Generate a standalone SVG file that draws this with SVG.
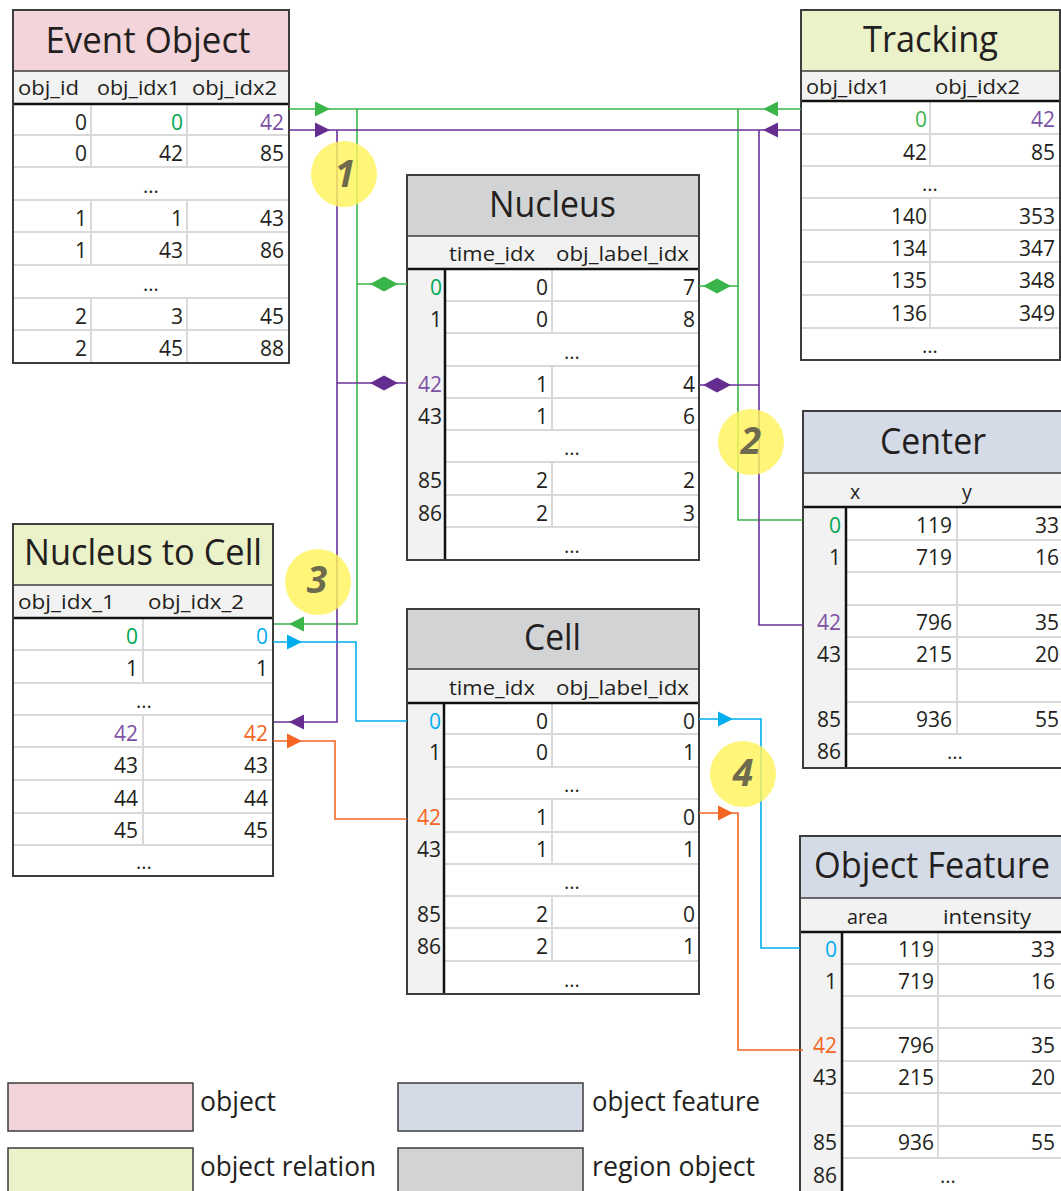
<svg xmlns="http://www.w3.org/2000/svg" xmlns:xlink="http://www.w3.org/1999/xlink" width="1061" height="1191" viewBox="0 0 1061 1191">
<style>
text{font-family:"Open Sans","Noto Sans",sans-serif;fill:#231f20}
.t{font-size:36px;text-anchor:middle}
.h{font-size:19.5px}
.v{font-size:21px;text-anchor:end}
.e{font-size:20px;text-anchor:middle}
.box{fill:none;stroke:#3d3d3d;stroke-width:2}
.sep{stroke:#3d3d3d;stroke-width:1.5}
.thk{stroke:#111;stroke-width:2.5}
.rl{stroke:#d9d9d9;stroke-width:2;fill:none}
.hb{fill:#f2f2f2}
.wb{fill:#fff}
.pk{fill:#f2d4da}.gr{fill:#ebf1c9}.bl{fill:#d4dbe6}.gy{fill:#d1d3d4}
text.cg{fill:#00a651}text.cg2{fill:#39b54a}text.cp{fill:#7d52a5}text.cb{fill:#00aeef}text.co{fill:#f26522}
.ln{fill:none;stroke-width:1.6}
.circ{fill:#fff35a;fill-opacity:0.82}
text.num{font-size:37px;font-weight:bold;font-style:italic;fill:#6e6a4e;text-anchor:middle}
.lg{font-size:27px}
.lgb{stroke:#3d3d3d;stroke-width:1.5}
</style>
<defs>
<path id="ar" d="M0 0L-15 -7.5L-15 7.5Z"/>
<path id="al" d="M0 0L15 -7.5L15 7.5Z"/>
<path id="dm" d="M-14 0L0 -7.5L14 0L0 7.5Z"/>
</defs>
<rect width="1061" height="1191" fill="#fff"/>

<g id="event-object">
<rect x="13" y="10" width="276" height="61" class="pk"/>
<rect x="13" y="71" width="276" height="33" class="hb"/>
<rect x="13" y="104" width="276" height="259" class="wb"/>
<path class="rl" d="M14 135H288M14 167H288M14 200H288M14 232H288M14 265H288M14 298H288M14 330H288"/>
<path class="rl" d="M91 104V167M187 104V167M91 200V265M187 200V265M91 298V363M187 298V363"/>
<line class="sep" x1="13" y1="71" x2="289" y2="71"/>
<line class="thk" x1="13" y1="104" x2="289" y2="104"/>
<rect class="box" x="13" y="10" width="276" height="353"/>
<text class="t" x="148" y="53" textLength="205" lengthAdjust="spacingAndGlyphs">Event Object</text>
<text class="h" x="18" y="95" textLength="61" lengthAdjust="spacingAndGlyphs">obj_id</text>
<text class="h" x="97" y="95" textLength="83" lengthAdjust="spacingAndGlyphs">obj_idx1</text>
<text class="h" x="192" y="95" textLength="85" lengthAdjust="spacingAndGlyphs">obj_idx2</text>
<text class="v" x="87" y="129.5">0</text><text class="v cg" x="183" y="129.5">0</text><text class="v cp" x="284" y="129.5">42</text>
<text class="v" x="87" y="161">0</text><text class="v" x="183" y="161">42</text><text class="v" x="284" y="161">85</text>
<text class="e" x="151" y="193">...</text>
<text class="v" x="87" y="225.5">1</text><text class="v" x="183" y="225.5">1</text><text class="v" x="284" y="225.5">43</text>
<text class="v" x="87" y="258">1</text><text class="v" x="183" y="258">43</text><text class="v" x="284" y="258">86</text>
<text class="e" x="151" y="291">...</text>
<text class="v" x="87" y="323.5">2</text><text class="v" x="183" y="323.5">3</text><text class="v" x="284" y="323.5">45</text>
<text class="v" x="87" y="356">2</text><text class="v" x="183" y="356">45</text><text class="v" x="284" y="356">88</text>
</g>

<g id="tracking">
<rect x="801" y="10" width="259" height="61" class="gr"/>
<rect x="801" y="71" width="259" height="30" class="hb"/>
<rect x="801" y="101" width="259" height="259" class="wb"/>
<path class="rl" d="M802 134H1059M802 166H1059M802 198H1059M802 230H1059M802 262H1059M802 295H1059M802 328H1059"/>
<path class="rl" d="M930 101V166M930 198V328"/>
<line class="sep" x1="801" y1="71" x2="1060" y2="71"/>
<line class="thk" x1="801" y1="101" x2="1060" y2="101"/>
<rect class="box" x="801" y="10" width="259" height="350"/>
<text class="t" x="930.5" y="52" textLength="135" lengthAdjust="spacingAndGlyphs">Tracking</text>
<text class="h" x="806" y="94" textLength="84" lengthAdjust="spacingAndGlyphs">obj_idx1</text>
<text class="h" x="935" y="94" textLength="85" lengthAdjust="spacingAndGlyphs">obj_idx2</text>
<text class="v cg2" x="927" y="127">0</text><text class="v cp" x="1055" y="127">42</text>
<text class="v" x="927" y="159.5">42</text><text class="v" x="1055" y="159.5">85</text>
<text class="e" x="930" y="191">...</text>
<text class="v" x="927" y="223.5">140</text><text class="v" x="1055" y="223.5">353</text>
<text class="v" x="927" y="255.5">134</text><text class="v" x="1055" y="255.5">347</text>
<text class="v" x="927" y="288">135</text><text class="v" x="1055" y="288">348</text>
<text class="v" x="927" y="320.5">136</text><text class="v" x="1055" y="320.5">349</text>
<text class="e" x="930" y="353">...</text>
</g>

<g id="nucleus">
<rect x="407" y="175" width="292" height="61" class="gy"/>
<rect x="407" y="236" width="292" height="33" class="hb"/>
<rect x="445" y="269" width="254" height="291" class="wb"/>
<rect x="407" y="269" width="38" height="291" class="hb"/>
<path class="rl" d="M446 301H698M446 333H698M446 366H698M446 398H698M446 430H698M446 462H698M446 495H698M446 527H698"/>
<path class="rl" d="M552 269V333M552 366V430M552 462V527"/>
<line class="sep" x1="407" y1="236" x2="699" y2="236"/>
<line class="thk" x1="407" y1="269" x2="699" y2="269"/>
<line class="thk" x1="445" y1="269" x2="445" y2="560"/>
<rect class="box" x="407" y="175" width="292" height="385"/>
<text class="t" x="552.5" y="217" textLength="127" lengthAdjust="spacingAndGlyphs">Nucleus</text>
<text class="h" x="449" y="261" textLength="86" lengthAdjust="spacingAndGlyphs">time_idx</text>
<text class="h" x="556" y="261" textLength="133" lengthAdjust="spacingAndGlyphs">obj_label_idx</text>
<text class="v cg" x="442" y="294.5">0</text><text class="v" x="548" y="294.5">0</text><text class="v" x="695" y="294.5">7</text>
<text class="v" x="442" y="326.5">1</text><text class="v" x="548" y="326.5">0</text><text class="v" x="695" y="326.5">8</text>
<text class="e" x="572" y="359">...</text>
<text class="v cp" x="442" y="391.5">42</text><text class="v" x="548" y="391.5">1</text><text class="v" x="695" y="391.5">4</text>
<text class="v" x="442" y="423.5">43</text><text class="v" x="548" y="423.5">1</text><text class="v" x="695" y="423.5">6</text>
<text class="e" x="572" y="455">...</text>
<text class="v" x="442" y="487.5">85</text><text class="v" x="548" y="487.5">2</text><text class="v" x="695" y="487.5">2</text>
<text class="v" x="442" y="520.5">86</text><text class="v" x="548" y="520.5">2</text><text class="v" x="695" y="520.5">3</text>
<text class="e" x="572" y="553">...</text>
</g>

<g id="cell">
<rect x="407" y="609" width="292" height="60" class="gy"/>
<rect x="407" y="669" width="292" height="34" class="hb"/>
<rect x="444" y="703" width="255" height="291" class="wb"/>
<rect x="407" y="703" width="37" height="291" class="hb"/>
<path class="rl" d="M445 734H698M445 767H698M445 799H698M445 832H698M445 864H698M445 896H698M445 928H698M445 961H698"/>
<path class="rl" d="M552 703V767M552 799V864M552 896V961"/>
<line class="sep" x1="407" y1="669" x2="699" y2="669"/>
<line class="thk" x1="407" y1="703" x2="699" y2="703"/>
<line class="thk" x1="444" y1="703" x2="444" y2="994"/>
<rect class="box" x="407" y="609" width="292" height="385"/>
<text class="t" x="552.5" y="650" textLength="57" lengthAdjust="spacingAndGlyphs">Cell</text>
<text class="h" x="449" y="695" textLength="86" lengthAdjust="spacingAndGlyphs">time_idx</text>
<text class="h" x="556" y="695" textLength="133" lengthAdjust="spacingAndGlyphs">obj_label_idx</text>
<text class="v cb" x="441" y="728.5">0</text><text class="v" x="548" y="728.5">0</text><text class="v" x="695" y="728.5">0</text>
<text class="v" x="441" y="759.5">1</text><text class="v" x="548" y="759.5">0</text><text class="v" x="695" y="759.5">1</text>
<text class="e" x="572" y="792">...</text>
<text class="v co" x="441" y="824.5">42</text><text class="v" x="548" y="824.5">1</text><text class="v" x="695" y="824.5">0</text>
<text class="v" x="441" y="857">43</text><text class="v" x="548" y="857">1</text><text class="v" x="695" y="857">1</text>
<text class="e" x="572" y="889">...</text>
<text class="v" x="441" y="921.5">85</text><text class="v" x="548" y="921.5">2</text><text class="v" x="695" y="921.5">0</text>
<text class="v" x="441" y="954">86</text><text class="v" x="548" y="954">2</text><text class="v" x="695" y="954">1</text>
<text class="e" x="572" y="987">...</text>
</g>

<g id="nucleus-to-cell">
<rect x="13" y="524" width="260" height="61" class="gr"/>
<rect x="13" y="585" width="260" height="33" class="hb"/>
<rect x="13" y="618" width="260" height="258" class="wb"/>
<path class="rl" d="M14 650H272M14 683H272M14 715H272M14 747H272M14 780H272M14 813H272M14 845H272"/>
<path class="rl" d="M143 618V683M143 715V845"/>
<line class="sep" x1="13" y1="585" x2="273" y2="585"/>
<line class="thk" x1="13" y1="618" x2="273" y2="618"/>
<rect class="box" x="13" y="524" width="260" height="352"/>
<text class="t" x="143" y="565" textLength="238" lengthAdjust="spacingAndGlyphs">Nucleus to Cell</text>
<text class="h" x="18" y="609" textLength="97" lengthAdjust="spacingAndGlyphs">obj_idx_1</text>
<text class="h" x="148" y="609" textLength="96" lengthAdjust="spacingAndGlyphs">obj_idx_2</text>
<text class="v cg" x="138" y="643.5">0</text><text class="v cb" x="268" y="643.5">0</text>
<text class="v" x="138" y="675.5">1</text><text class="v" x="268" y="675.5">1</text>
<text class="e" x="144" y="708">...</text>
<text class="v cp" x="138" y="740.5">42</text><text class="v co" x="268" y="740.5">42</text>
<text class="v" x="138" y="772.5">43</text><text class="v" x="268" y="772.5">43</text>
<text class="v" x="138" y="805.5">44</text><text class="v" x="268" y="805.5">44</text>
<text class="v" x="138" y="838">45</text><text class="v" x="268" y="838">45</text>
<text class="e" x="144" y="869">...</text>
</g>

<g id="center">
<rect x="803" y="411" width="260" height="62" class="bl"/>
<rect x="803" y="473" width="260" height="34" class="hb"/>
<rect x="846" y="507" width="217" height="261" class="wb"/>
<rect x="803" y="507" width="43" height="261" class="hb"/>
<path class="rl" d="M847 540H1062M847 572H1062M847 605H1062M847 637H1062M847 669H1062M847 702H1062M847 734H1062"/>
<path class="rl" d="M957 507V734"/>
<line class="sep" x1="803" y1="473" x2="1063" y2="473"/>
<line class="thk" x1="803" y1="507" x2="1063" y2="507"/>
<line class="thk" x1="846" y1="507" x2="846" y2="768"/>
<rect class="box" x="803" y="411" width="262" height="357"/>
<text class="t" x="933" y="454" textLength="106" lengthAdjust="spacingAndGlyphs">Center</text>
<text class="h" x="850" y="499">x</text>
<text class="h" x="962" y="499">y</text>
<text class="v cg" x="841" y="532.5">0</text><text class="v" x="952" y="532.5">119</text><text class="v" x="1059" y="532.5">33</text>
<text class="v" x="841" y="565">1</text><text class="v" x="952" y="565">719</text><text class="v" x="1059" y="565">16</text>
<text class="v cp" x="841" y="630">42</text><text class="v" x="952" y="630">796</text><text class="v" x="1059" y="630">35</text>
<text class="v" x="841" y="662">43</text><text class="v" x="952" y="662">215</text><text class="v" x="1059" y="662">20</text>
<text class="v" x="841" y="727">85</text><text class="v" x="952" y="727">936</text><text class="v" x="1059" y="727">55</text>
<text class="v" x="841" y="759">86</text><text class="e" x="955" y="759">...</text>
</g>

<g id="object-feature">
<rect x="800" y="836" width="263" height="62" class="bl"/>
<rect x="800" y="898" width="263" height="34" class="hb"/>
<rect x="842" y="932" width="221" height="260" class="wb"/>
<rect x="800" y="932" width="42" height="260" class="hb"/>
<path class="rl" d="M843 964H1062M843 996H1062M843 1028H1062M843 1061H1062M843 1093H1062M843 1126H1062M843 1158H1062"/>
<path class="rl" d="M938 932V1158"/>
<line class="sep" x1="800" y1="898" x2="1063" y2="898"/>
<line class="thk" x1="800" y1="932" x2="1063" y2="932"/>
<line class="thk" x1="842" y1="932" x2="842" y2="1192"/>
<rect class="box" x="800" y="836" width="265" height="360"/>
<text class="t" x="932" y="878" textLength="236" lengthAdjust="spacingAndGlyphs">Object Feature</text>
<text class="h" x="847" y="924" textLength="41" lengthAdjust="spacingAndGlyphs">area</text>
<text class="h" x="943" y="924" textLength="88" lengthAdjust="spacingAndGlyphs">intensity</text>
<text class="v cb" x="837" y="957">0</text><text class="v" x="934" y="957">119</text><text class="v" x="1055" y="957">33</text>
<text class="v" x="837" y="989">1</text><text class="v" x="934" y="989">719</text><text class="v" x="1055" y="989">16</text>
<text class="v co" x="837" y="1053">42</text><text class="v" x="934" y="1053">796</text><text class="v" x="1055" y="1053">35</text>
<text class="v" x="837" y="1085">43</text><text class="v" x="934" y="1085">215</text><text class="v" x="1055" y="1085">20</text>
<text class="v" x="837" y="1150">85</text><text class="v" x="934" y="1150">936</text><text class="v" x="1055" y="1150">55</text>
<text class="v" x="837" y="1183">86</text><text class="e" x="948" y="1183">...</text>
</g>

<g id="connectors">
<path class="ln" stroke="#39b54a" d="M289 109H801M357 109V624H274M357 284H407M738 109V520H803M699 286H738"/>
<path class="ln" stroke="#6b3399" d="M289 130H801M337 130V722H274M337 383H407M759 130V625H803M699 385H759"/>
<path class="ln" stroke="#00aeef" d="M273 642H356V721H407M699 719H761V948H800"/>
<path class="ln" stroke="#f26522" d="M273 741H335V819H407M699 813H738V1050H803"/>
<g fill="#39b54a">
<use xlink:href="#ar" x="330" y="109"/><use xlink:href="#al" x="763" y="109"/><use xlink:href="#al" x="289" y="624"/>
<use xlink:href="#dm" x="384" y="284"/><use xlink:href="#dm" x="717" y="286"/>
</g>
<g fill="#662d91">
<use xlink:href="#ar" x="330" y="130"/><use xlink:href="#al" x="763" y="130"/><use xlink:href="#al" x="289" y="722"/>
<use xlink:href="#dm" x="384" y="383"/><use xlink:href="#dm" x="717" y="385"/>
</g>
<g fill="#00aeef"><use xlink:href="#ar" x="302" y="642"/><use xlink:href="#ar" x="733" y="719"/></g>
<g fill="#f26522"><use xlink:href="#ar" x="302" y="741"/><use xlink:href="#ar" x="733" y="813"/></g>
</g>

<g id="markers">
<circle class="circ" cx="344" cy="174" r="33"/>
<text class="num" x="345" y="187">1</text>
<circle class="circ" cx="751" cy="442" r="33"/>
<text class="num" x="751" y="454">2</text>
<circle class="circ" cx="318" cy="582" r="33"/>
<text class="num" x="317" y="593">3</text>
<circle class="circ" cx="743" cy="774" r="33"/>
<text class="num" x="743" y="786">4</text>
</g>

<g id="legend">
<rect class="pk lgb" x="8" y="1083" width="185" height="48"/>
<text class="lg" x="200" y="1111" textLength="76" lengthAdjust="spacingAndGlyphs">object</text>
<rect class="bl lgb" x="398" y="1083" width="185" height="48"/>
<text class="lg" x="592" y="1111" textLength="168" lengthAdjust="spacingAndGlyphs">object feature</text>
<rect class="gr lgb" x="8" y="1148" width="185" height="48"/>
<text class="lg" x="200" y="1176" textLength="176" lengthAdjust="spacingAndGlyphs">object relation</text>
<rect class="gy lgb" x="398" y="1148" width="185" height="48"/>
<text class="lg" x="592" y="1176" textLength="163" lengthAdjust="spacingAndGlyphs">region object</text>
</g>
</svg>
